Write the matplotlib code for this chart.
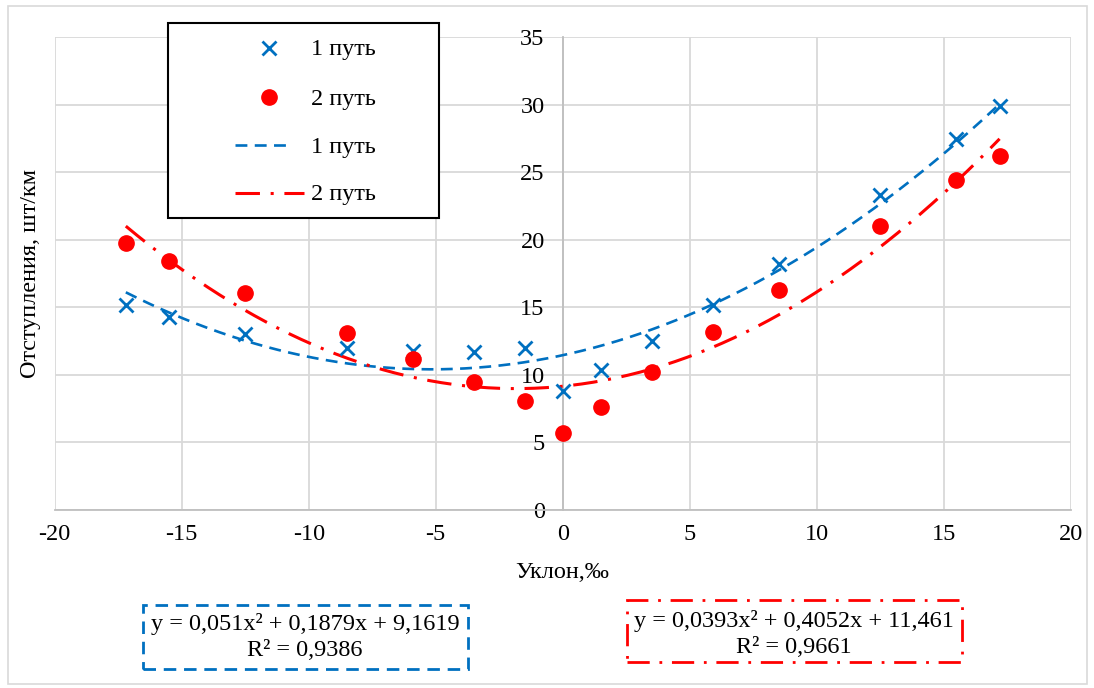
import matplotlib.pyplot as plt
import numpy as np
from matplotlib.lines import Line2D
from matplotlib.patches import Rectangle

plt.rcParams['font.family'] = ['Liberation Serif', 'DejaVu Serif']
plt.rcParams['axes.unicode_minus'] = False

# data
uklon = [-17.2, -15.5, -12.5, -8.5, -5.9, -3.5, -1.5, 0, 1.5, 3.5, 5.9, 8.5, 12.5, 15.5, 17.2]
put1 = [15.2, 14.3, 13.0, 12.0, 11.8, 11.7, 12.0, 8.8, 10.4, 12.5, 15.2, 18.2, 23.3, 27.5, 29.9]
put2 = [19.8, 18.4, 16.1, 13.1, 11.2, 9.5, 8.1, 5.7, 7.6, 10.2, 13.2, 16.3, 21.0, 24.4, 26.2]

# trendline coefficients as printed in the chart boxes (a, b, c)
trend1 = [0.0393, 0.4052, 11.461]
trend2 = [0.051, 0.1879, 9.1619]
eq_blue = "y = 0,051x² + 0,1879x + 9,1619\nR² = 0,9386"
eq_red = "y = 0,0393x² + 0,4052x + 11,461\nR² = 0,9661"

BLUE = "#0070C0"
RED = "#FF0000"
FS = 17.5
DASH = (0, (4.5, 2.8))
DASHDOT = (0, (8, 3.5, 1, 3.5))

W, H = 1094, 688
fx = lambda px: px / W
fy = lambda py: 1 - py / H

fig = plt.figure(figsize=(W / 100, H / 100), dpi=100)
ax = fig.add_axes([fx(54.7), fy(510), 1016 / W, 472.7 / H])

ax.set_xlim(-20, 20)
ax.set_ylim(0, 35)
ax.set_xticks(range(-20, 21, 5))
ax.set_yticks(range(0, 36, 5))
ax.grid(True, color="#d9d9d9", lw=1.3)
ax.set_axisbelow(True)
for s in ["top", "right"]:
    ax.spines[s].set_visible(False)
ax.spines["left"].set_position(("data", 0))
for s in ["left", "bottom"]:
    ax.spines[s].set_color("#bfbfbf")
    ax.spines[s].set_linewidth(1.3)
ax.tick_params(length=0, labelsize=FS)
ax.tick_params(axis="y", pad=13)
ax.tick_params(axis="x", pad=10)

xs = np.linspace(min(uklon), max(uklon), 300)
ax.plot(xs, np.polyval(trend1, xs), color=BLUE, lw=1.9, ls=DASH, zorder=3)
ax.plot(xs, np.polyval(trend2, xs), color=RED, lw=2.2, ls=DASHDOT, zorder=3)
ax.plot(uklon, put1, ls="none", marker="x", ms=10.5, mew=2.0, color=BLUE, zorder=4)
ax.plot(uklon, put2, ls="none", marker="o", ms=11, color=RED, zorder=4)

ax.set_xlabel("Уклон,‰", fontsize=FS)
ax.xaxis.set_label_coords(0.5, -0.133)
ax.xaxis.label.set_va("center")
ax.set_ylabel("Отступления, шт/км", fontsize=FS)
ax.yaxis.set_label_coords(-0.024, 0.5)
ax.yaxis.label.set_va("center")

# legend drawn by hand to match the boxed layout
fig.add_artist(Rectangle((fx(167.7), fy(217.7)), (439 - 167.7) / W, (217.7 - 23.3) / H,
                         transform=fig.transFigure, fill=True, facecolor="white",
                         edgecolor="black", lw=1.5, zorder=5))
rows = [48, 97, 145, 193]
fig.add_artist(Line2D([fx(269)], [fy(rows[0])], ls="none", marker="x", ms=10.5, mew=2.0,
                      color=BLUE, transform=fig.transFigure, zorder=6))
fig.add_artist(Line2D([fx(269)], [fy(rows[1])], ls="none", marker="o", ms=11,
                      color=RED, transform=fig.transFigure, zorder=6))
fig.add_artist(Line2D([fx(235), fx(292)], [fy(rows[2])] * 2, color=BLUE, lw=1.9,
                      ls=DASH, transform=fig.transFigure, zorder=6))
fig.add_artist(Line2D([fx(235), fx(304)], [fy(rows[3])] * 2, color=RED, lw=2.2,
                      ls=DASHDOT, transform=fig.transFigure, zorder=6))
for r, lab in zip(rows, ["1 путь", "2 путь", "1 путь", "2 путь"]):
    fig.text(fx(311), fy(r + 2), lab, fontsize=FS, va="center", ha="left", zorder=7)

# trendline equation boxes
fig.add_artist(Rectangle((fx(143), fy(669)), (468 - 143) / W, (669 - 605) / H,
                         transform=fig.transFigure, fill=False, edgecolor=BLUE,
                         lw=2.0, ls=DASH))
fig.text(fx(305), fy(637), eq_blue, fontsize=FS, ha="center", va="center",
         multialignment="center", linespacing=1.3)
fig.add_artist(Rectangle((fx(627), fy(662)), (962 - 627) / W, (662 - 600) / H,
                         transform=fig.transFigure, fill=False, edgecolor=RED,
                         lw=2.0, ls=DASHDOT))
fig.text(fx(794), fy(634), eq_red, fontsize=FS, ha="center", va="center",
         multialignment="center", linespacing=1.3)

# outer chart border
fig.add_artist(Rectangle((fx(8), fy(684)), (1087 - 8) / W, (684 - 6) / H,
                         transform=fig.transFigure, fill=False, edgecolor="#d9d9d9", lw=1.2))

fig.savefig("out.png", dpi=100)
